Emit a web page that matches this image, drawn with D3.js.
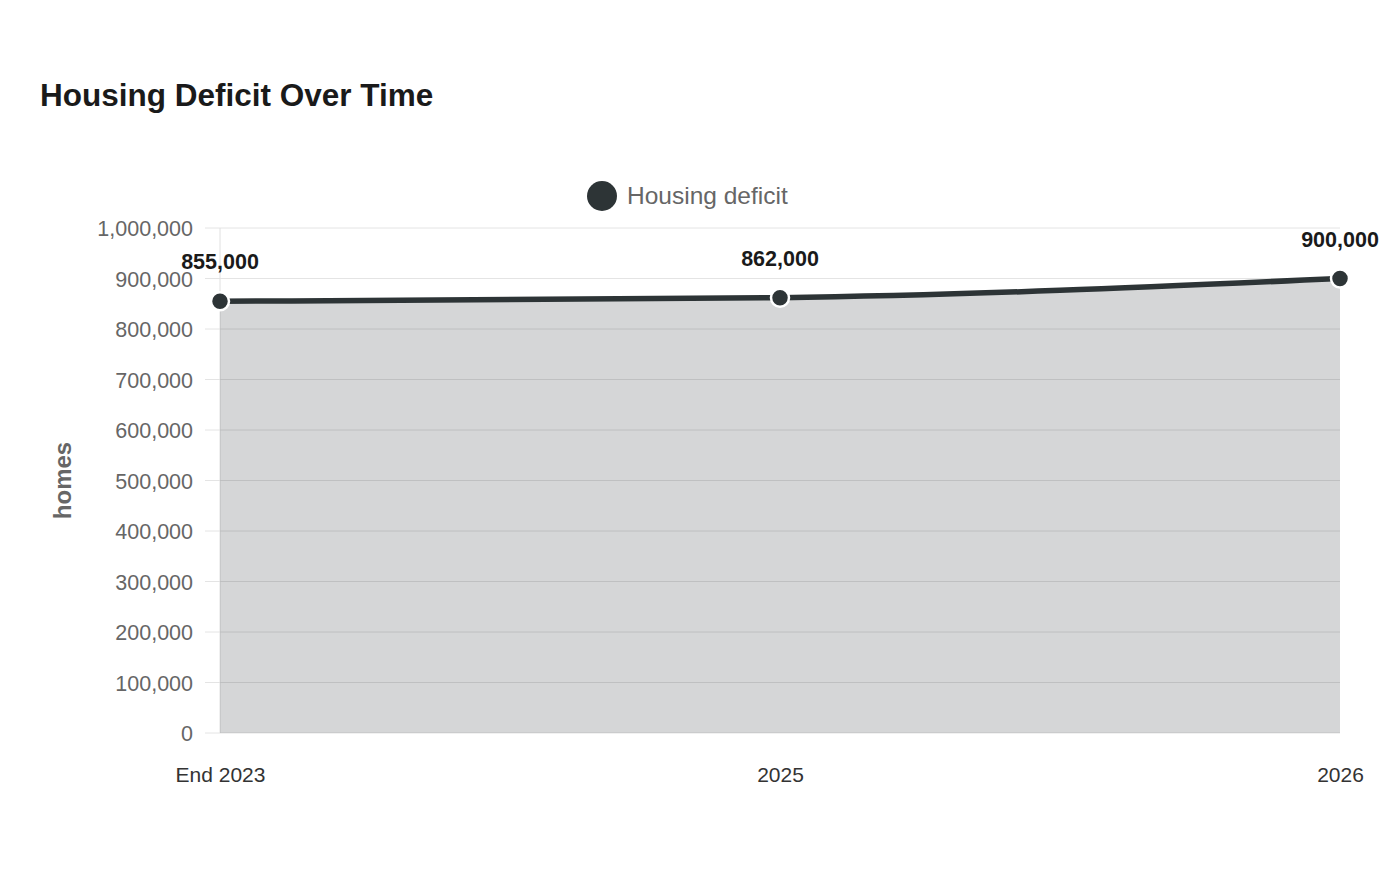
<!DOCTYPE html>
<html>
<head>
<meta charset="utf-8">
<script src="https://cdn.jsdelivr.net/npm/d3@7"></script>
<style>
  body { margin: 0; background: #fff; }
  svg text { font-family: "Liberation Sans", Arial, sans-serif; }
</style>
</head>
<body>
<div class="canvas"></div>
<script>
const categories = ['End 2023', '2025', '2026'];
const deficit = [855000, 862000, 900000];
const yTicks = [0, 100000, 200000, 300000, 400000, 500000, 600000, 700000, 800000, 900000, 1000000];

const svg = d3.select('.canvas')
    .append('svg')
    .attr('width', 1400)
    .attr('height', 880);

const margin = { top: 228, right: 60, bottom: 147, left: 220 };
const graphWidth = 1400 - margin.left - margin.right;
const graphHeight = 880 - margin.top - margin.bottom;
const dark = '#2d3436';

svg.append('text')
    .attr('x', 40)
    .attr('y', 106)
    .attr('font-size', 31.5)
    .attr('font-weight', 'bold')
    .attr('fill', '#1a1a1a')
    .text('Housing Deficit Over Time');

// legend
svg.append('circle')
    .attr('cx', 602).attr('cy', 196).attr('r', 15)
    .attr('fill', dark);
svg.append('text')
    .attr('x', 627).attr('y', 204)
    .attr('font-size', 24.5)
    .attr('fill', '#666')
    .text('Housing deficit');

const graph = svg.append('g')
    .attr('transform', `translate(${margin.left},${margin.top})`);

const x = d3.scalePoint()
    .domain(categories)
    .range([0, graphWidth]);

const y = d3.scaleLinear()
    .domain([0, 1000000])
    .range([graphHeight, 0]);

// horizontal grid lines
graph.append('g')
    .selectAll('line')
    .data(yTicks)
    .enter()
    .append('line')
    .attr('x1', -15)
    .attr('x2', graphWidth)
    .attr('y1', d => y(d))
    .attr('y2', d => y(d))
    .attr('stroke', '#e4e4e4');

const yAxis = d3.axisLeft(y)
    .tickValues(yTicks)
    .tickSize(0)
    .tickPadding(27)
    .tickFormat(d3.format(','));

const yAxisGroup = graph.append('g')
    .attr('transform', 'translate(0,1)')
    .call(yAxis);
yAxisGroup.select('.domain').remove();
yAxisGroup.selectAll('text')
    .attr('font-size', 21.5)
    .attr('fill', '#666')
    .attr('font-family', '"Liberation Sans", Arial, sans-serif');

graph.append('line')
    .attr('x1', 0).attr('x2', 0)
    .attr('y1', 0).attr('y2', graphHeight)
    .attr('stroke', '#e0e0e0');

const xAxis = d3.axisBottom(x).tickSize(0).tickPadding(34);
const xAxisGroup = graph.append('g')
    .attr('transform', `translate(0,${graphHeight})`)
    .call(xAxis);
xAxisGroup.select('.domain').remove();
xAxisGroup.selectAll('text')
    .attr('font-size', 21)
    .attr('fill', '#333')
    .attr('font-family', '"Liberation Sans", Arial, sans-serif');

svg.append('text')
    .attr('transform', `translate(71,${margin.top + graphHeight / 2}) rotate(-90)`)
    .attr('text-anchor', 'middle')
    .attr('font-size', 24)
    .attr('font-weight', 'bold')
    .attr('fill', '#666')
    .text('homes');

const area = d3.area()
    .x((d, i) => x(categories[i]))
    .y0(graphHeight)
    .y1(d => y(d))
    .curve(d3.curveMonotoneX);

const line = d3.line()
    .x((d, i) => x(categories[i]))
    .y(d => y(d))
    .curve(d3.curveMonotoneX);

graph.append('path')
    .datum(deficit)
    .attr('d', area)
    .attr('fill', dark)
    .attr('fill-opacity', 0.2);

graph.append('path')
    .datum(deficit)
    .attr('d', line)
    .attr('fill', 'none')
    .attr('stroke', dark)
    .attr('stroke-width', 5.5);

graph.selectAll('circle.pt')
    .data(deficit)
    .enter()
    .append('circle')
    .attr('class', 'pt')
    .attr('cx', (d, i) => x(categories[i]))
    .attr('cy', d => y(d))
    .attr('r', 9)
    .attr('fill', dark)
    .attr('stroke', '#fff')
    .attr('stroke-width', 2.5);

graph.selectAll('text.lbl')
    .data(deficit)
    .enter()
    .append('text')
    .attr('class', 'lbl')
    .attr('x', (d, i) => x(categories[i]))
    .attr('y', d => y(d) - 32)
    .attr('text-anchor', 'middle')
    .attr('font-size', 21.5)
    .attr('font-weight', 'bold')
    .attr('fill', '#1a1a1a')
    .text(d => d3.format(',')(d));
</script>
</body>
</html>
